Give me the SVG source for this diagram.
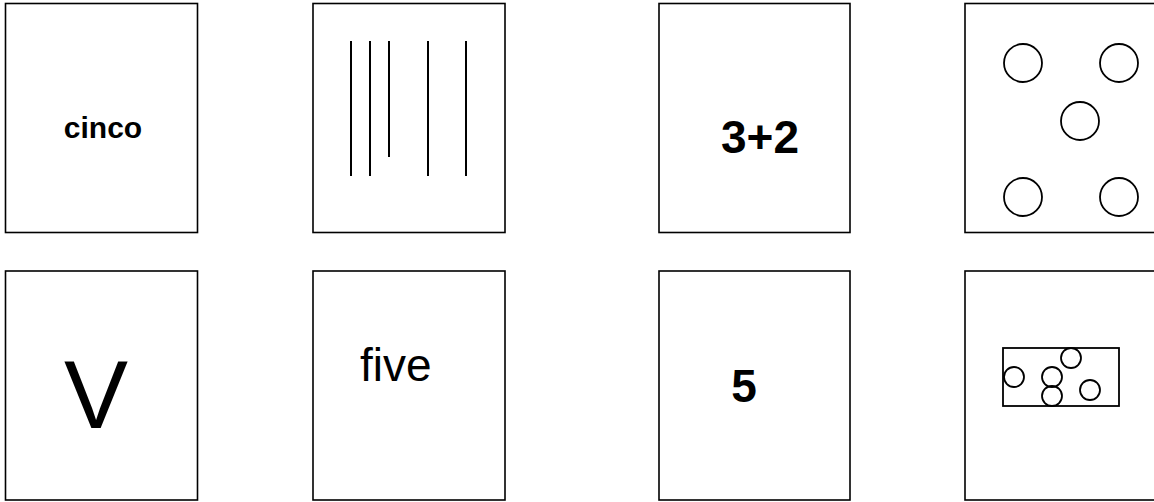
<svg xmlns="http://www.w3.org/2000/svg" width="1154" height="502" viewBox="0 0 1154 502">
<style>
.card{fill:#fff;stroke:#000;stroke-width:1.6}
.ln{stroke:#000;stroke-width:2}
.c{fill:none;stroke:#000;stroke-width:1.8}
.b{font-family:"Liberation Sans",Arial,sans-serif;font-weight:bold;fill:#000;text-anchor:middle}
.r{font-family:"Liberation Sans",Arial,sans-serif;fill:#000}
</style>
<rect width="1154" height="502" fill="#fff"/>
<g id="card-cinco">
<rect class="card" x="5.5" y="3.5" width="192" height="229"/>
<text class="b" x="103" y="138" font-size="30">cinco</text>
</g>
<g id="card-tally">
<rect class="card" x="313" y="3.5" width="192" height="229"/>
<line class="ln" x1="351" y1="41" x2="351" y2="176"/>
<line class="ln" x1="370" y1="41" x2="370" y2="176"/>
<line class="ln" x1="389" y1="41" x2="389" y2="157"/>
<line class="ln" x1="428" y1="41" x2="428" y2="176"/>
<line class="ln" x1="466" y1="41" x2="466" y2="176"/>
</g>
<g id="card-3plus2">
<rect class="card" x="659" y="3.5" width="191" height="229"/>
<text class="b" x="760" y="153" font-size="46">3+2</text>
</g>
<g id="card-dice">
<rect class="card" x="965" y="3.5" width="200" height="229"/>
<circle class="c" cx="1023" cy="63" r="19"/>
<circle class="c" cx="1119" cy="63" r="19"/>
<circle class="c" cx="1080" cy="121" r="19"/>
<circle class="c" cx="1023" cy="197" r="19"/>
<circle class="c" cx="1119" cy="197" r="19"/>
</g>
<g id="card-V">
<rect class="card" x="5.5" y="271" width="192" height="229"/>
<text class="r" x="96" y="428" font-size="96" text-anchor="middle">V</text>
</g>
<g id="card-five">
<rect class="card" x="313" y="271" width="192" height="229"/>
<text class="r" x="360" y="381" font-size="46">five</text>
</g>
<g id="card-5">
<rect class="card" x="659" y="271" width="191" height="229"/>
<text class="b" x="744" y="402" font-size="46">5</text>
</g>
<g id="card-box">
<rect class="card" x="965" y="271" width="200" height="229"/>
<rect class="c" x="1003" y="348" width="116" height="58"/>
<circle class="c" cx="1014" cy="377" r="10"/>
<circle class="c" cx="1071" cy="358" r="10"/>
<circle class="c" cx="1052" cy="377" r="10"/>
<circle class="c" cx="1052" cy="396" r="10"/>
<circle class="c" cx="1090" cy="390" r="10"/>
</g>
<g id="connectors"/>
</svg>
